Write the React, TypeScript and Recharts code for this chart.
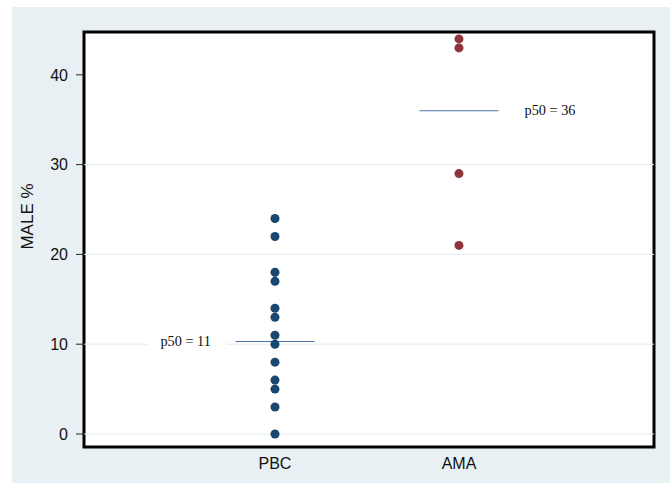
import {
  ScatterChart,
  Scatter,
  XAxis,
  YAxis,
  ZAxis,
  ReferenceArea,
  ReferenceLine,
  ReferenceDot,
} from 'recharts';

const categories = ['PBC', 'AMA'];
const pbcValues = [24, 22, 18, 17, 14, 13, 11, 10, 8, 6, 5, 3, 0];
const amaValues = [44, 43, 29, 21];
const medianValues = [10.3, 36];
const medianLabels = ['p50 = 11', 'p50 = 36'];
const yTicks = [0, 10, 20, 30, 40];
const gridValues = [0, 10, 20, 30];

const X_DOMAIN: [number, number] = [-0.038, 3.06];
const Y_DOMAIN: [number, number] = [-1.45, 44.77];
const HALF = 0.215;
const SANS = '"Liberation Sans", Arial, sans-serif';
const SERIF = '"Liberation Serif", "Times New Roman", serif';

const pbcData = pbcValues.map((v) => ({ x: 1, y: v }));
const amaData = amaValues.map((v) => ({ x: 2, y: v }));

function MedianLabel(props: any) {
  const { cx, cy, text, side } = props;
  const w = 53;
  const textX = side === 'left' ? cx - 22 - w : cx + 26;
  return (
    <g>
      <rect x={textX - 12} y={cy - 10} width={w + 25} height={20} fill="#ffffff" />
      <text x={textX} y={cy + 4.5} fontFamily={SERIF} fontSize={14.3} fill="#111">
        {text}
      </text>
    </g>
  );
}

function YTitle(props: any) {
  const vb = props.viewBox || { x: 24, y: 32, width: 60, height: 415 };
  const x = vb.x + 3;
  const y = vb.y + vb.height / 2 - 23;
  return (
    <text
      x={x}
      y={y}
      transform={`rotate(-90 ${x} ${y})`}
      textAnchor="middle"
      dominantBaseline="central"
      fontFamily={SANS}
      fontSize={17}
      fill="#111"
    >
      MALE %
    </text>
  );
}

export default function App() {
  return (
    <div style={{ position: 'absolute', left: 0, top: 0, width: 670, height: 483 }}>
      <div
        style={{
          position: 'absolute',
          left: 12,
          top: 7,
          width: 658,
          height: 476,
          background: '#e8f0f3',
        }}
      />
      <div style={{ position: 'absolute', left: 0, top: 0 }}>
        <ScatterChart
          width={670}
          height={483}
          margin={{ top: 32, right: 16, bottom: 6, left: 24 }}
        >
          <XAxis
            type="number"
            dataKey="x"
            domain={X_DOMAIN}
            ticks={[1, 2]}
            tickFormatter={(v) => categories[v - 1] ?? ''}
            axisLine={false}
            tickLine={false}
            tickSize={5}
            tickMargin={6}
            height={30}
            tick={{ fontFamily: SANS, fontSize: 16, fill: '#111' }}
            allowDataOverflow
          />
          <YAxis
            type="number"
            dataKey="y"
            domain={Y_DOMAIN}
            ticks={yTicks}
            width={60}
            axisLine={false}
            tickSize={8}
            tickMargin={8}
            tickLine={{ stroke: '#222' }}
            tick={{ fontFamily: SANS, fontSize: 16, fill: '#111' }}
            label={{ content: (p: any) => <YTitle {...p} /> }}
            allowDataOverflow
          />
          <ZAxis range={[50, 50]} />
          <ReferenceArea
            x1={X_DOMAIN[0]}
            x2={X_DOMAIN[1]}
            y1={Y_DOMAIN[0]}
            y2={Y_DOMAIN[1]}
            fill="#ffffff"
            fillOpacity={1}
            stroke="none"
          />
          {gridValues.map((g) => (
            <ReferenceLine key={g} y={g} stroke="#e3ecef" strokeWidth={1} />
          ))}
          {medianValues.map((m, i) => (
            <ReferenceDot
              key={`lab-${i}`}
              x={i === 0 ? i + 1 - HALF : i + 1 + HALF}
              y={m}
              r={0}
              shape={(p: any) => (
                <MedianLabel
                  cx={p.cx}
                  cy={p.cy}
                  text={medianLabels[i]}
                  side={i === 0 ? 'left' : 'right'}
                />
              )}
            />
          ))}
          <Scatter data={pbcData} fill="#1a476f" isAnimationActive={false} />
          <Scatter data={amaData} fill="#90353b" isAnimationActive={false} />
          {medianValues.map((m, i) => (
            <ReferenceLine
              key={`med-${i}`}
              segment={[
                { x: i + 1 - HALF, y: m },
                { x: i + 1 + HALF, y: m },
              ]}
              stroke="#4a70a8"
              strokeWidth={1.2}
            />
          ))}
          <ReferenceArea
            x1={X_DOMAIN[0]}
            x2={X_DOMAIN[1]}
            y1={Y_DOMAIN[0]}
            y2={Y_DOMAIN[1]}
            fill="none"
            stroke="#000"
            strokeWidth={3}
          />
        </ScatterChart>
      </div>
    </div>
  );
}
